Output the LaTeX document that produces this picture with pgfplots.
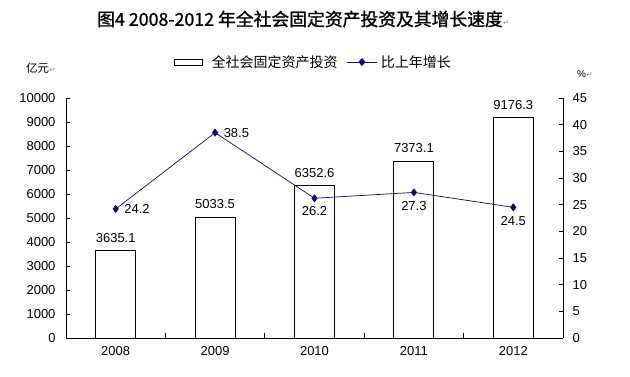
\documentclass[border=0pt]{standalone}
\usepackage{pgfplots}
\pgfplotsset{compat=1.18}
\usepackage{fontspec}
\setmainfont{Liberation Sans}
\newfontfamily\cjk{Noto Sans CJK SC}
\newfontfamily\cjktitle[FakeBold=1.2]{Noto Sans CJK SC}
\newfontfamily\dejavu{DejaVu Sans}
\definecolor{navy}{RGB}{10,10,110}
\definecolor{pmark}{RGB}{150,150,150}
\newcommand{\parmark}{{\dejavu\fontsize{8bp}{9bp}\selectfont\textcolor{pmark}{↵}}}
\newcommand{\lbl}{\fontsize{13bp}{15bp}\selectfont}
\begin{document}
\begin{tikzpicture}
\useasboundingbox (0,0) rectangle (630bp,377bp);
\node[anchor=west,inner sep=0] at (97bp,358bp) {\cjktitle\fontsize{17.8bp}{20bp}\selectfont 图4 2008-2012 年全社会固定资产投资及其增长速度\parmark};
\node[anchor=west,inner sep=0] at (26bp,309bp) {\cjk\fontsize{11.5bp}{13bp}\selectfont 亿元\parmark};
\node[anchor=west,inner sep=0] at (577bp,303bp) {\fontsize{10bp}{12bp}\selectfont \%\parmark};
\begin{axis}[
  at={(66bp,39bp)}, anchor=south west, scale only axis,
  width=497bp, height=240bp,
  xmin=-0.5, xmax=4.5, ymin=0, ymax=10000,
  axis x line*=bottom, axis y line*=left,
  axis line style={-,black,line width=0.9pt},
  tick align=inside, major tick length=4.5bp, minor tick length=4.5bp,
  tick style={black,line width=0.7pt},
  xtick={0,1,2,3,4}, xticklabels={2008,2009,2010,2011,2012},
  major x tick style={draw=none},
  minor xtick={0.5,1.5,2.5,3.5},
  ytick={0,1000,...,10000},
  scaled y ticks=false,
  /pgf/number format/assume math mode=true,
  /pgf/number format/1000 sep={},
  tick label style={font=\lbl, text=black},
  xticklabel style={yshift=-5bp},
  yticklabel style={xshift=-7bp},
  clip=false,
]
\addplot[ybar, bar width=40bp, draw=black, fill=white, line width=0.9pt,
  nodes near coords, point meta=explicit symbolic,
  every node near coord/.append style={font=\lbl, text=black, anchor=south, yshift=4.5bp}]
  table[x=x, y=y, meta=lab] {
x y lab
0 3635.1 3635.1
1 5033.5 5033.5
2 6352.6 6352.6
3 7373.1 7373.1
4 9176.3 9176.3
};
\end{axis}
\begin{axis}[
  at={(66bp,39bp)}, anchor=south west, scale only axis,
  width=497bp, height=240bp,
  xmin=-0.5, xmax=4.5, ymin=0, ymax=45,
  axis x line=none, axis y line*=right,
  axis line style={-,black,line width=0.9pt},
  tick align=inside, major tick length=4.5bp,
  tick style={black,line width=0.7pt},
  ytick={0,5,...,45},
  /pgf/number format/assume math mode=true,
  tick label style={font=\lbl, text=black},
  yticklabel style={xshift=6bp},
  clip=false,
  legend style={at={(0.496,1.15)}, anchor=center, draw=none, fill=none,
    legend columns=2, font=\cjk\fontsize{14bp}{16bp}\selectfont,
    nodes={inner sep=0pt},
    /tikz/every even column/.append style={column sep=9bp},
    inner sep=0pt},
]
\addlegendimage{legend image code/.code={\draw[black,fill=white,line width=0.9pt] (0bp,-3bp) rectangle (28bp,3bp); \path[draw=none,fill=none] (0bp,0bp) -- (37bp,0bp);}}
\addlegendentry{全社会固定资产投资}
\addplot[color=navy, line width=0.7pt, mark=diamond*, mark size=3.5bp,
  mark options={solid, fill=navy},
  legend image code/.code={\draw[navy,line width=0.9pt] (0bp,0bp) -- (30bp,0bp); \fill[navy] (15bp,3.5bp) -- (12bp,0bp) -- (15bp,-3.5bp) -- (18bp,0bp) -- cycle; \path[draw=none,fill=none] (0bp,0bp) -- (34bp,0bp);},
  nodes near coords, point meta=explicit symbolic,
  visualization depends on={value \thisrow{anc} \as \anc},
  visualization depends on={\thisrow{dx} \as \dx},
  visualization depends on={\thisrow{dy} \as \dy},
  every node near coord/.append style={font=\lbl, text=black, anchor=\anc, xshift=\dx, yshift=\dy}]
  table[x=x, y=y, meta=lab] {
x y lab anc dx dy
0 24.2 24.2 west 5 0
1 38.5 38.5 west 5 0
2 26.2 26.2 north 0 -5
3 27.3 27.3 north 0 -5
4 24.5 24.5 north 0 -5
};
\addlegendentry{比上年增长}
\end{axis}
\end{tikzpicture}
\end{document}
